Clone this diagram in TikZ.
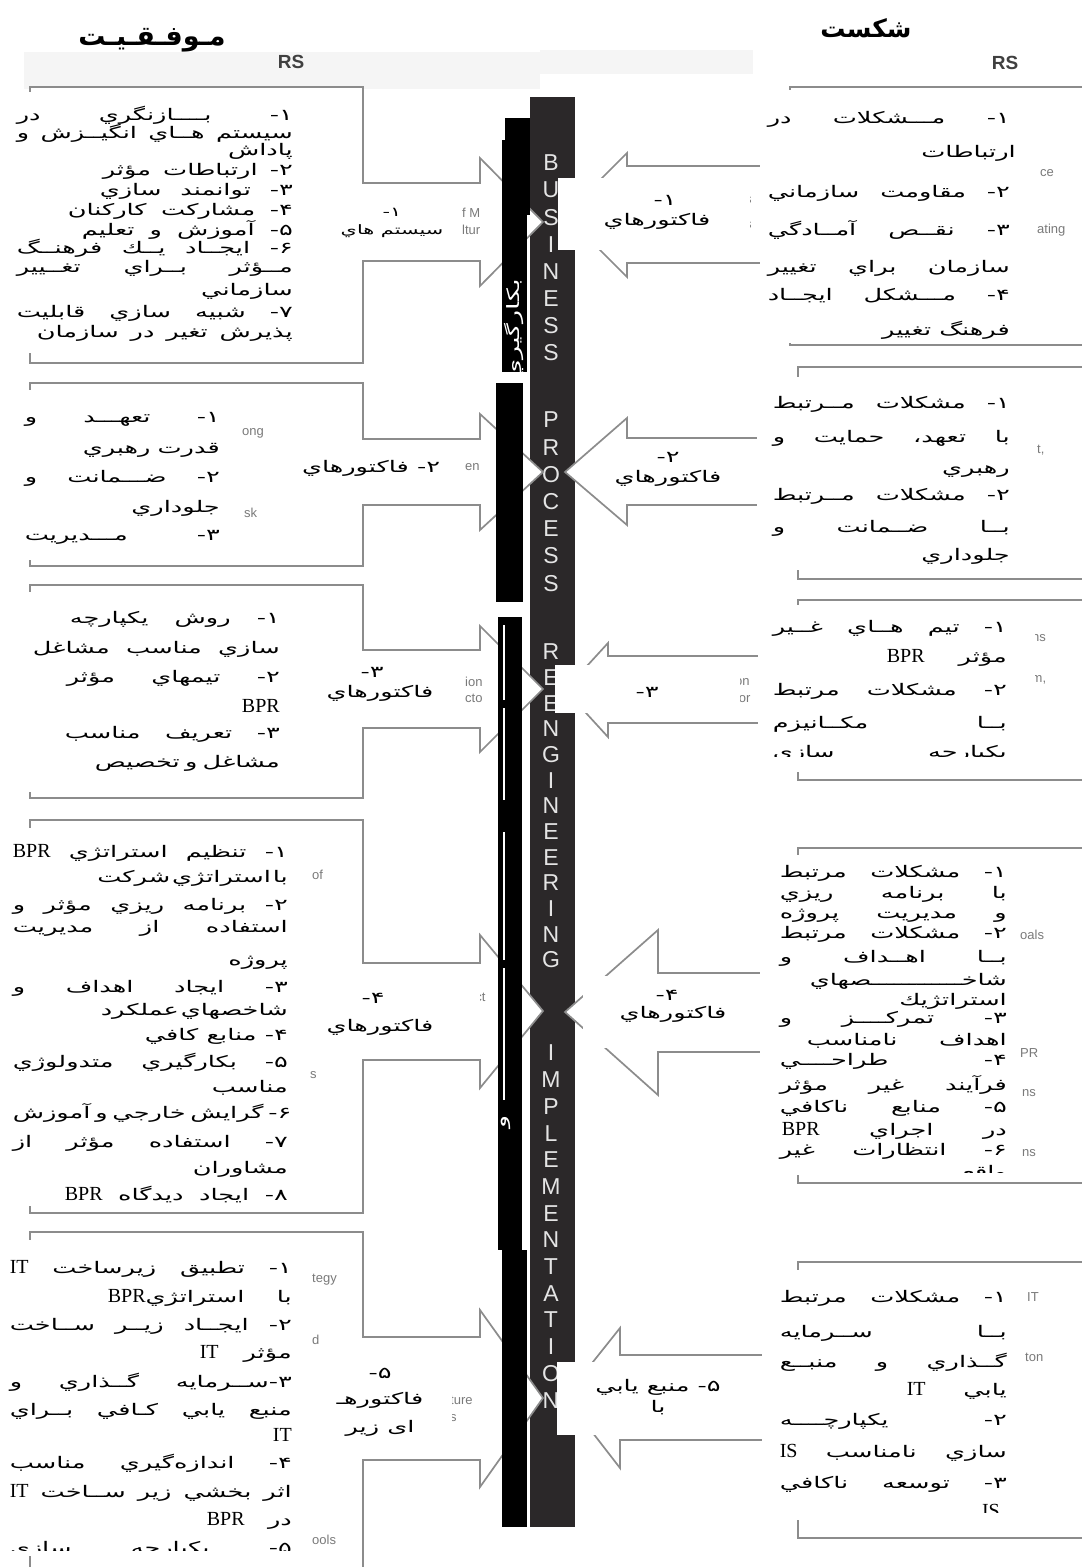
\documentclass[tikz,border=0pt]{standalone}
\usepackage{fontspec}
\TeXXeTstate=1
\newfontfamily\fa[Script=Arabic,FakeStretch=1.6]{DejaVu Sans}
\newfontfamily\faT[Script=Arabic]{DejaVu Sans}
\newfontfamily\lat{Liberation Serif}
\newfontfamily\en{Liberation Sans}
\definecolor{barc}{HTML}{2B2829}
\definecolor{ogray}{HTML}{8C8C8C}
\definecolor{fgray}{HTML}{7A7A7A}
\definecolor{lband}{HTML}{F5F5F5}
\definecolor{bletter}{HTML}{E4E4E4}
\newcounter{lnc}
\newcommand\jbox[2]{\setbox0=\hbox{\spaceskip=0.12em\relax\beginR #2\endR}\ifdim\wd0<#1pt\relax\hbox to #1pt{\spaceskip=0.3em plus 1fill\relax\beginR #2\endR}\else\box0\fi}
\newcommand\JL[4]{\stepcounter{lnc}\node[tx] (ln\arabic{lnc}) at (#1,#2) {\jbox{#3}{#4}};}
\newcommand\RL[3]{\stepcounter{lnc}\node[tx] (ln\arabic{lnc}) at (#1,#2) {\beginR #3\endR};}
\newcommand\xBPR{{\lat\fontsize{20}{20}\selectfont BPR}}
\newcommand\xIT{{\lat\fontsize{20}{20}\selectfont IT}}
\newcommand\xIS{{\lat\fontsize{20}{20}\selectfont IS}}
\newcommand\LArr[7]{\draw[outl] (30,#1) -- (363,#1) -- (363,#3) -- (480,#3) -- (480,#5) -- (543,#7) -- (480,#6) -- (480,#4) -- (363,#4) -- (363,#2) -- (30,#2) -- cycle;}
\newcommand\RArr[9]{\draw[outl] (1090,#1) -- (#8,#1) -- (#8,#3) -- (#9,#3) -- (#9,#5) -- (565,#7) -- (#9,#6) -- (#9,#4) -- (#8,#4) -- (#8,#2) -- (1090,#2);}
\begin{document}
\begin{tikzpicture}[x=1pt,y=-1pt,
  tx/.style={font=\fa\fontsize{16}{19}\selectfont, inner sep=0pt, anchor=base east},
  lab/.style={font=\fa\fontsize{16}{16}\selectfont, inner sep=0pt},
  labs/.style={font=\fa\fontsize{13}{13}\selectfont, inner sep=0pt},
  outl/.style={draw=ogray, line width=1.7pt, fill=white, line join=miter},
  ovl/.style={fill=white, draw=none},
  frag/.style={font=\en\fontsize{13}{13}\selectfont, text=fgray, inner sep=0pt, anchor=west},
  bl/.style={font=\en\fontsize{23}{23}\selectfont, text=bletter, inner sep=0pt},
  vtx/.style={font=\fa\fontsize{17}{17}\selectfont, text=white, inner sep=0pt, rotate=90}
]
\useasboundingbox (0,0) rectangle (1082,1567);
\fill[white] (0,0) rectangle (1082,1567);
% faint scan bands
\fill[lband] (24,52) rectangle (540,89);
\fill[lband] (540,50) rectangle (753,74);
% titles
\node[font=\faT\bfseries\fontsize{27}{27}\selectfont, inner sep=0pt] (t1) at (152,40) {\beginR مـوفـقـيـت\endR};
\node[font=\faT\bfseries\fontsize{25}{25}\selectfont, inner sep=0pt] (t2) at (866,28) {\beginR شکست\endR};
\node[font=\en\bfseries\fontsize{19}{19}\selectfont, text=black!75, inner sep=0pt] (rs1) at (291,62) {RS};
\node[font=\en\bfseries\fontsize{19}{19}\selectfont, text=black!75, inner sep=0pt] (rs2) at (1005,63) {RS};
% central bar
\fill[barc] (530,97) rectangle (575,1527);
\foreach \ch [count=\i] in {B,U,S,I,N,E,S,S} \node[bl] (ba\i) at (551,{163+27.1*(\i-1)}) {\ch};
\foreach \ch [count=\i] in {P,R,O,C,E,S,S} \node[bl] (bb\i) at (551,{420+27.2*(\i-1)}) {\ch};
\foreach \ch [count=\i] in {R,E,E,N,G,I,N,E,E,R,I,N,G} \node[bl] (bc\i) at (551,{652+25.67*(\i-1)}) {\ch};
\foreach \ch [count=\i] in {I,M,P,L,E,M,E,N,T,A,T,I,O,N} \node[bl] (bd\i) at (551,{1053+26.7*(\i-1)}) {\ch};
% left arrows: T B sT sB hT hB c
\LArr{87}{363}{183}{261}{158}{286}{222}
\LArr{383}{566}{439}{505}{414}{530}{472}
\LArr{585}{798}{650}{728}{626}{752}{689}
\LArr{820}{1213}{963}{1060}{935}{1088}{1011}
\LArr{1232}{1600}{1337}{1460}{1310}{1487}{1398}
% right arrows: T B sT sB hT hB c Lx hx
\RArr{87}{345}{166}{263}{153}{277}{215}{790}{627}
\RArr{367}{579}{438}{505}{418}{525}{472}{798}{627}
\RArr{600}{780}{656}{723}{643}{737}{690}{798}{608}
\RArr{848}{1183}{973}{1052}{930}{1095}{1012}{798}{658}
\RArr{1262}{1538}{1355}{1440}{1328}{1468}{1397}{798}{620}
% black strips
\fill[black] (505,118) rectangle (530,215);
\fill[black] (502,140) rectangle (527,372);
\fill[black] (496,383) rectangle (523,602);
\fill[black] (498,617) rectangle (522,1250);
\fill[black] (502,1250) rectangle (527,1527);
\node[vtx] (vt1) at (514,330) {\beginR بكارگيري\endR};
\node[vtx] (vt2) at (506,1122) {\beginR و\endR};
\draw[white, line width=1.2pt] (504,625) -- (504,700) (504,708) -- (504,800) (504,832) -- (504,960) (504,968) -- (504,1100);
% english fragments
\node[frag] (f1) at (462,213) {f M};
\node[frag] (f2) at (462,230) {ltur};
\node[frag] (f3) at (242,433) {ong};
\node[frag] (f4) at (244,513) {sk};
\node[frag] (f5) at (465,467) {en};
\node[frag] (f6) at (465,682) {ion};
\node[frag] (f7) at (465,698) {cto};
\node[frag] (f8) at (312,875) {of};
\node[frag] (f9) at (310,1075) {s};
\node[frag] (f10) at (465,998) {ject};
\node[frag] (f11) at (465,1020) {rs};
\node[frag] (f12) at (312,1280) {tegy};
\node[frag] (f13) at (312,1340) {d};
\node[frag] (f14) at (450,1400) {ture};
\node[frag] (f15) at (450,1418) {s};
\node[frag] (f16) at (312,1540) {ools};
\node[frag] (f17) at (745,200) {s};
\node[frag] (f18) at (745,225) {s};
\node[frag] (f19) at (1040,173) {ce};
\node[frag] (f20) at (1037,230) {ating};
\node[frag] (f21) at (1037,450) {t,};
\node[frag] (f22) at (1032,638) {ns};
\node[frag] (f23) at (1025,680) {sm,};
\node[frag] (f24) at (735,682) {on};
\node[frag] (f25) at (735,698) {tor};
\node[frag] (f26) at (1020,935) {oals};
\node[frag] (f27) at (1020,1053) {PR};
\node[frag] (f28) at (1022,1093) {ns};
\node[frag] (f29) at (1022,1153) {ns};
\node[frag] (f30) at (1027,1297) {IT};
\node[frag] (f31) at (1025,1357) {ton};
% white overlays
\fill[ovl] (0,92) rectangle (305,353);
\fill[ovl] (0,390) rectangle (240,560);
\fill[ovl] (0,592) rectangle (298,792);
\fill[ovl] (0,828) rectangle (305,1206);
\fill[ovl] (0,1240) rectangle (307,1556);
\fill[ovl] (760,90) rectangle (1032,343);
\fill[ovl] (757,377) rectangle (1033,570);
\fill[ovl] (758,605) rectangle (1035,772);
\fill[ovl] (760,855) rectangle (1013,1175);
\fill[ovl] (762,1270) rectangle (1020,1520);
% label boxes
\fill[ovl] (327,187) rectangle (457,256);
\fill[ovl] (558,178) rectangle (750,250);
\fill[ovl] (273,443) rectangle (463,492);
\fill[ovl] (300,655) rectangle (462,725);
\fill[ovl] (555,665) rectangle (740,713);
\fill[ovl] (307,977) rectangle (480,1047);
\fill[ovl] (583,976) rectangle (758,1048);
\fill[ovl] (313,1350) rectangle (452,1447);
\fill[ovl] (557,1362) rectangle (760,1435);
% labels
\node[labs] (la1) at (392,212) {\beginR ۱-\endR};
\node[labs] (la2) at (392,231) {\beginR سيستم هاي\endR};
\node[lab] (ra1) at (665,200) {\beginR ۱-\endR};
\node[lab] (ra2) at (657,221) {\beginR فاكتورهاي\endR};
\node[lab] (la3) at (371,468) {\beginR ۲- فاكتورهاي\endR};
\node[lab] (ra3) at (668,457) {\beginR ۲-\endR};
\node[lab] (ra4) at (668,478) {\beginR فاكتورهاي\endR};
\node[lab] (la4) at (372,672) {\beginR ۳-\endR};
\node[lab] (la5) at (380,693) {\beginR فاكتورهاي\endR};
\node[lab] (ra5) at (647,692) {\beginR ۳-\endR};
\node[lab] (la6) at (373,998) {\beginR ۴-\endR};
\node[lab] (la7) at (380,1027) {\beginR فاكتورهاي\endR};
\node[lab] (ra6) at (667,995) {\beginR ۴-\endR};
\node[lab] (ra7) at (673,1014) {\beginR فاكتورهاي\endR};
\node[lab] (la8) at (380,1373) {\beginR ۵-\endR};
\node[lab] (la9) at (380,1400) {\beginR فاكتورهـ\endR};
\node[lab] (la10) at (380,1428) {\beginR اى زير\endR};
\node[lab] (ra8) at (658,1387) {\beginR ۵- منبع يابي\endR};
\node[lab] (ra9) at (658,1408) {\beginR با\endR};
% left box 1
\JL{293}{120}{276}{۱- بــــازنگري در}
\JL{293}{138}{276}{سيستم هــاي انگيــزش و}
\RL{293}{155}{پاداش}
\JL{293}{175}{190}{۲- ارتباطات مؤثر}
\JL{293}{195}{193}{۳- توانمند سازي}
\JL{293}{215}{225}{۴- مشاركت كاركنان}
\JL{293}{235}{211}{۵- آموزش و تعليم}
\JL{293}{253}{276}{۶- ايجــاد يــك فرهنــگ}
\JL{293}{272}{276}{مــؤثر بــراي تغــيير}
\RL{293}{295}{سازماني}
\JL{293}{317}{276}{۷- شبيه سازي قابليت}
\JL{293}{337}{256}{پذيرش تغير در سازمان}
% left box 2
\JL{220}{422}{195}{۱- تعهـــد و}
\JL{220}{453}{137}{قدرت رهبري}
\JL{220}{482}{195}{۲- ضـــمانت و}
\RL{220}{512}{جلوداري}
\JL{220}{540}{195}{۳- مـــديريت}
% left box 3
\JL{280}{623}{210}{۱- روش يكپارچه}
\JL{280}{653}{247}{سازي مناسب مشاغل}
\JL{280}{682}{213}{۲- تيمهاي مؤثر}
\RL{280}{712}{\xBPR}
\JL{280}{738}{215}{۳- تعريف مناسب}
\JL{280}{767}{185}{مشاغل و تخصيص}
% left box 4
\JL{288}{857}{275}{۱- تنظيم استراتژي \xBPR}
\JL{288}{882}{185}{با استراتژي شركت}
\JL{288}{910}{275}{۲- برنامه ريزي مؤثر و}
\JL{288}{932}{275}{استفاده از مديريت}
\RL{288}{965}{پروژه}
\JL{288}{992}{275}{۳- ايجاد اهداف و}
\JL{288}{1015}{178}{شاخصهاي عملكرد}
\JL{288}{1040}{143}{۴- منابع كافي}
\JL{288}{1067}{275}{۵- بكارگيري متدولوژي}
\RL{288}{1092}{مناسب}
\JL{288}{1118}{275}{۶- گرايش خارجي و آموزش}
\JL{288}{1147}{275}{۷- استفاده مؤثر از}
\RL{288}{1173}{مشاوران}
\JL{288}{1200}{223}{۸- ايجاد ديدگاه \xBPR}
% left box 5
\JL{292}{1273}{282}{۱- تطبيق زيرساخت \xIT}
\JL{292}{1302}{184}{با استراتژي\xBPR}
\JL{292}{1330}{282}{۲- ايجــاد زيــر ســاخت}
\JL{292}{1358}{92}{مؤثر \xIT}
\JL{292}{1387}{282}{۳-ســرمايه گــذاري و}
\JL{292}{1415}{282}{منبع يابي كـافي بــراي}
\RL{292}{1441}{\xIT}
\JL{292}{1468}{282}{۴- اندازه‌گيري مناسب}
\JL{292}{1497}{282}{اثر بخشي زير ســاخت \xIT}
\JL{292}{1525}{85}{در \xBPR}
\begin{scope}
\clip (0,1530) rectangle (310,1550);
\JL{292}{1553}{282}{۵- يكپارچه سازي}
\end{scope}
% right box 1
\JL{1010}{123}{242}{۱- مـــشكلات در}
\RL{1016}{157}{ارتباطات}
\JL{1010}{197}{242}{۲- مقاومت سازماني}
\JL{1010}{235}{242}{۳- نقــص آمــادگي}
\JL{1010}{272}{242}{سازمان براي تغيير}
\JL{1010}{300}{242}{۴- مـــشكل ايجــاد}
\begin{scope}
\clip (760,315) rectangle (1032,343);
\RL{1010}{335}{فرهنگ تغيير}
\end{scope}
% right box 2
\JL{1010}{408}{237}{۱- مشكلات مــرتبط}
\JL{1010}{442}{237}{با تعهد، حمايت و}
\RL{1010}{473}{رهبري}
\JL{1010}{500}{237}{۲- مشكلات مــرتبط}
\JL{1010}{532}{237}{بــا ضــمانت و}
\begin{scope}
\clip (760,545) rectangle (1032,563);
\RL{1010}{560}{جلوداري}
\end{scope}
% right box 3
\JL{1007}{632}{234}{۱- تيم هــاي غــير}
\JL{1007}{662}{120}{مؤثر \xBPR}
\JL{1007}{695}{234}{۲- مشكلات مرتبط}
\JL{1007}{728}{234}{بــا مكــانيزم}
\begin{scope}
\clip (760,740) rectangle (1032,756);
\JL{1007}{757}{234}{يكپارچه سازي}
\end{scope}
% right box 4
\JL{1007}{877}{227}{۱- مشكلات مرتبط}
\JL{1007}{898}{227}{با برنامه ريزي}
\JL{1007}{918}{227}{و مديريت پروژه}
\JL{1007}{938}{227}{۲- مشكلات مرتبط}
\JL{1007}{962}{227}{بــا اهــداف و}
\RL{1007}{985}{شاخــــــــــــصهاي}
\RL{1007}{1005}{استراتژيك}
\JL{1007}{1023}{227}{۳- تمركــــز و}
\JL{1007}{1045}{200}{اهداف نامناسب}
\JL{1007}{1065}{227}{۴- طراحــــي}
\JL{1007}{1090}{227}{فرآيند غير مؤثر}
\JL{1007}{1112}{227}{۵- منابع ناكافي}
\JL{1007}{1135}{225}{در اجراي \xBPR}
\JL{1007}{1155}{227}{۶- انتظارات غير}
\begin{scope}
\clip (760,1160) rectangle (1013,1172);
\RL{1007}{1177}{واقعي}
\end{scope}
% right box 5
\JL{1007}{1302}{227}{۱- مشكلات مرتبط}
\JL{1007}{1337}{227}{بــا ســرمايه}
\JL{1007}{1367}{227}{گــذاري و منبــع}
\JL{1007}{1395}{100}{يابي \xIT}
\JL{1007}{1425}{227}{۲- يكپارچــــه}
\JL{1007}{1457}{227}{سازي نامناسب \xIS}
\JL{1007}{1488}{227}{۳- توسعه ناكافي}
\begin{scope}
\clip (760,1500) rectangle (1020,1512);
\RL{1000}{1517}{\xIS}
\end{scope}
\end{tikzpicture}
\end{document}
